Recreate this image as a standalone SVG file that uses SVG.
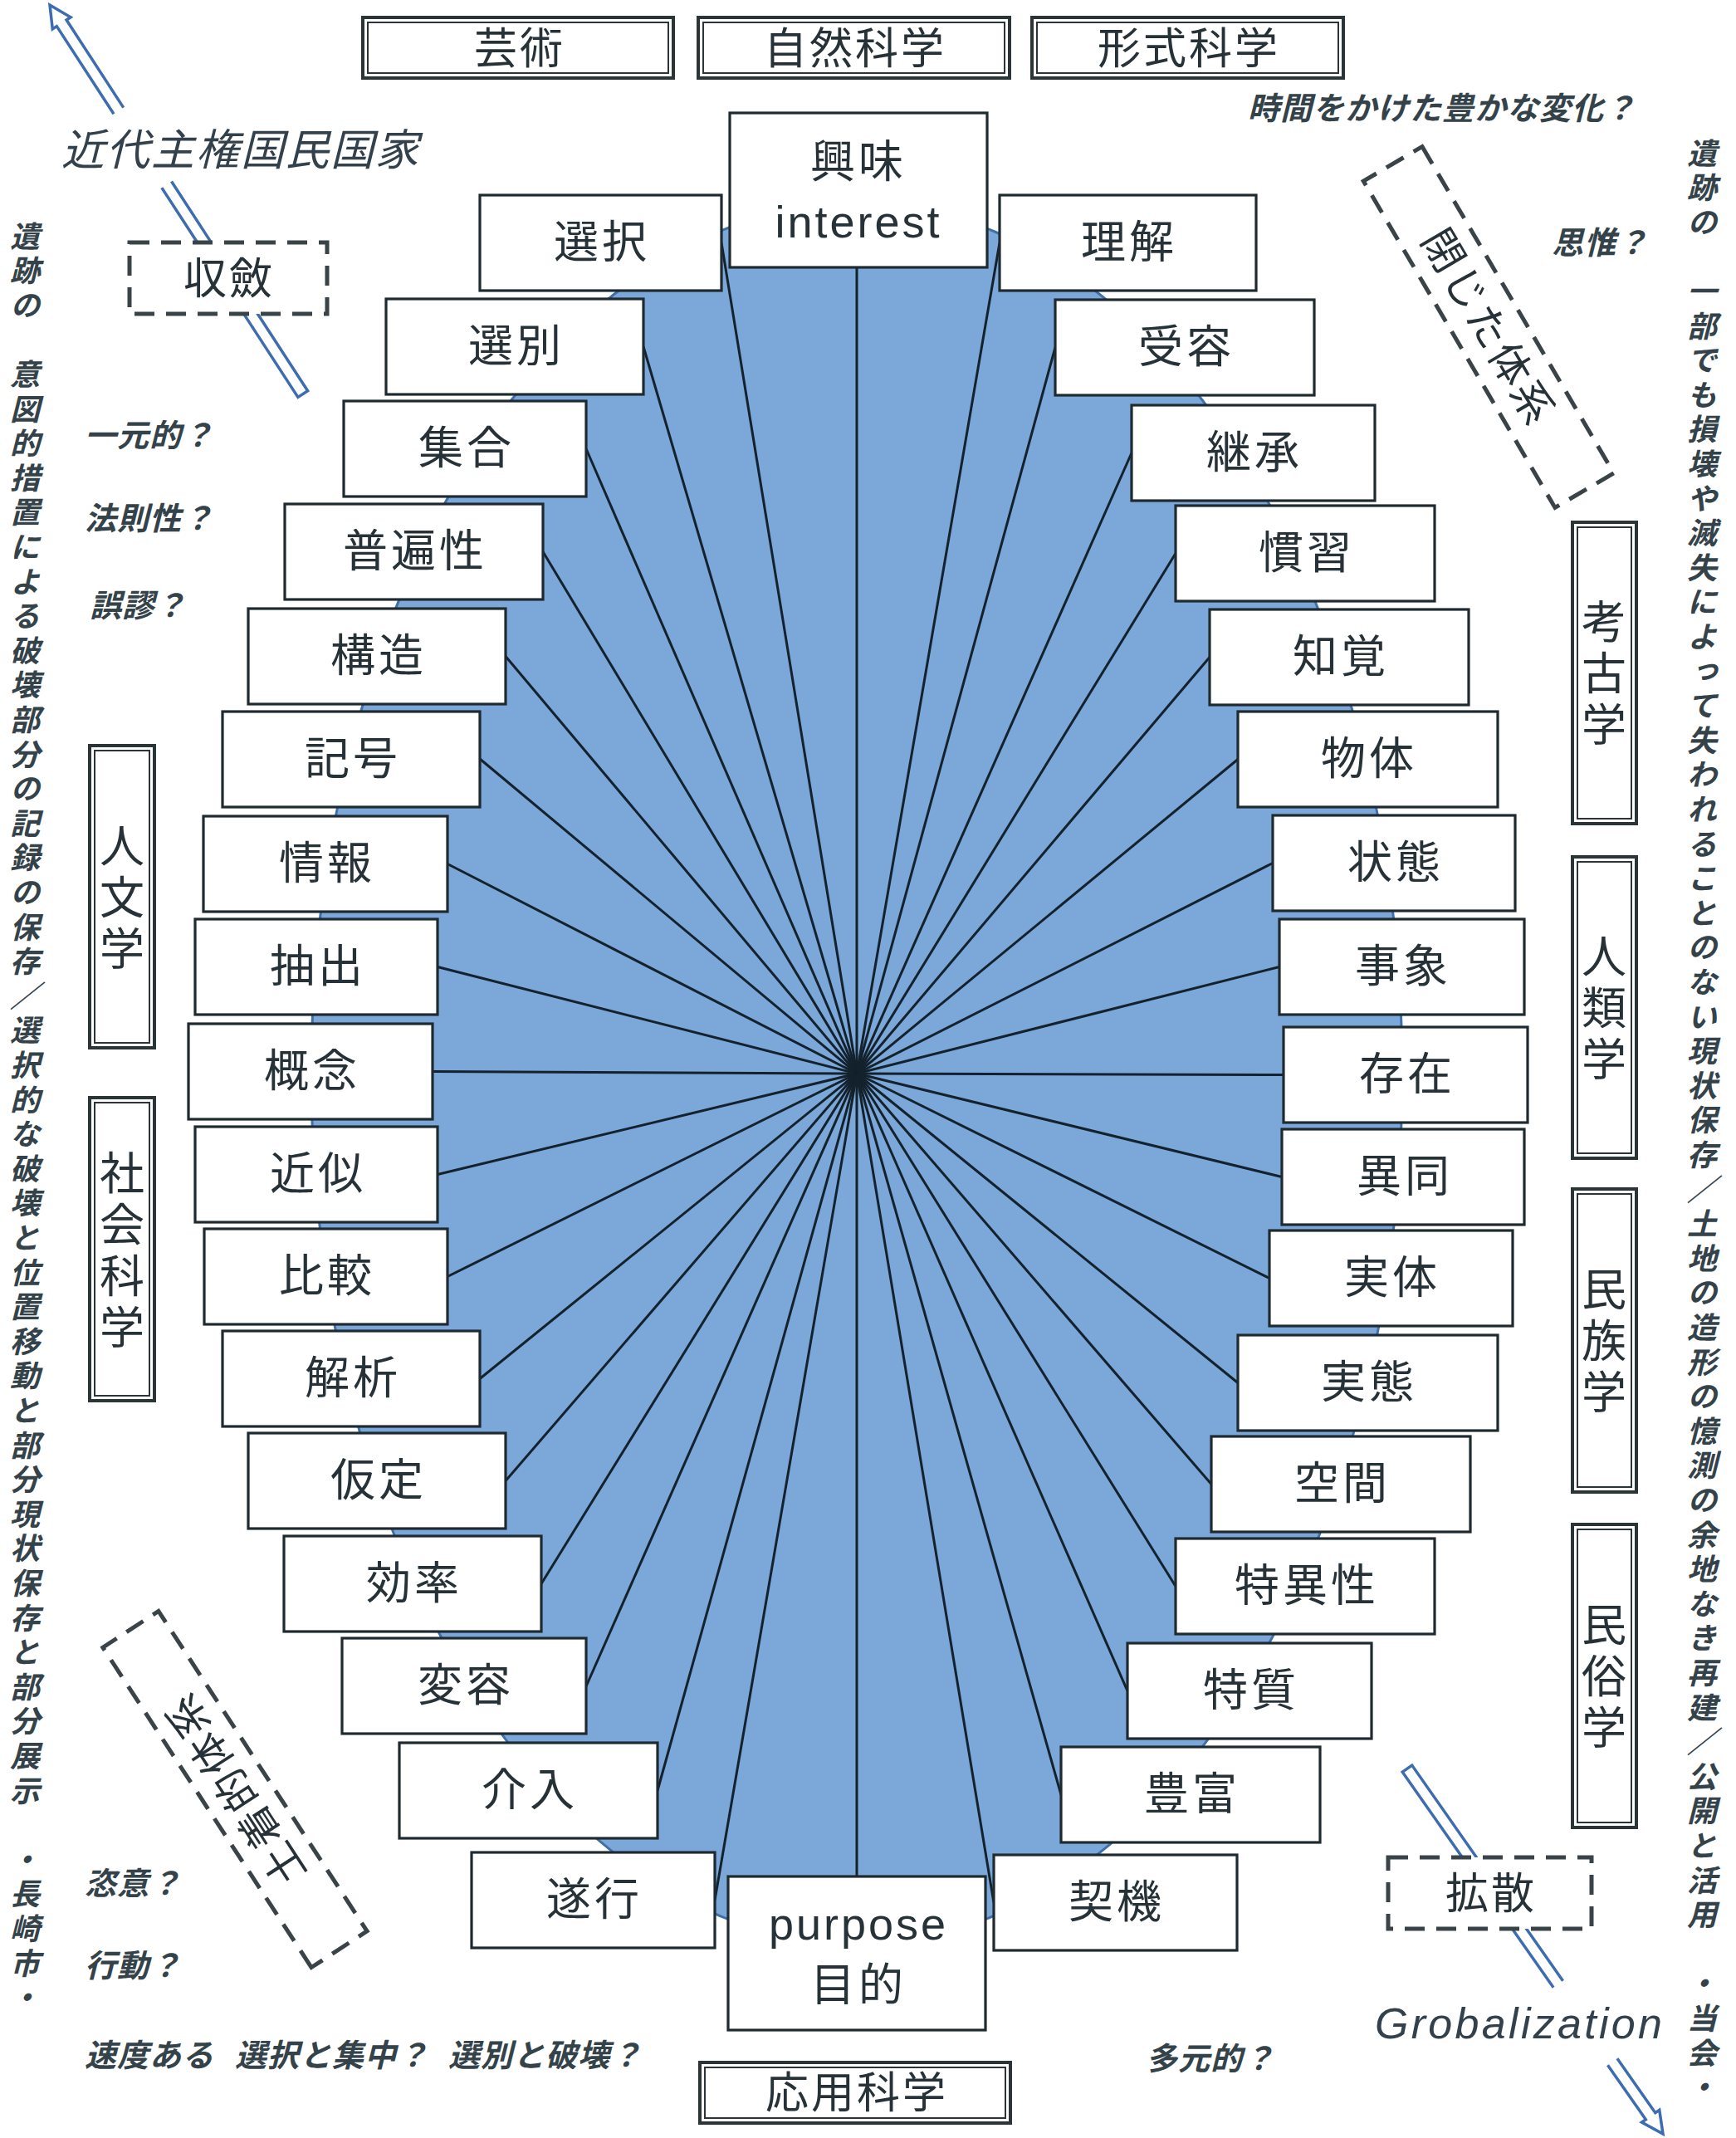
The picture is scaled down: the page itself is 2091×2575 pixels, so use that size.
<svg xmlns="http://www.w3.org/2000/svg" width="2091" height="2575" viewBox="0 0 2091 2575">
<style>
.bg{fill:#ffffff}
.ell{fill:#7ba7d9;stroke:#3f6fa9;stroke-width:3}
.ray{stroke:#13222c;stroke-width:3}
.box{fill:#ffffff;stroke:#1e2a30;stroke-width:3.2}
.lbl{font-family:"Noto Sans CJK JP","Noto Sans CJK SC",sans-serif;font-size:54px;fill:#263238;text-anchor:middle;letter-spacing:4px}
.en{font-family:"Liberation Sans",Arial,sans-serif;font-size:54px;fill:#263238;text-anchor:middle;letter-spacing:3px}
.co{fill:#ffffff;stroke:#2b3538;stroke-width:4}
.ci{fill:none;stroke:#2b3538;stroke-width:2}
.cat{font-family:"Noto Sans CJK JP",sans-serif;font-size:52px;fill:#263238;text-anchor:middle;letter-spacing:3px}
.vcat{font-family:"Noto Sans CJK JP",sans-serif;font-size:54px;fill:#263238;text-anchor:middle;letter-spacing:8px;writing-mode:vertical-rl}
.note{font-family:"Noto Sans CJK JP",sans-serif;font-style:italic;font-weight:700;font-size:38px;fill:#34424a;letter-spacing:1px}
.big{font-family:"Noto Sans CJK JP",sans-serif;font-style:italic;font-size:52px;fill:#33414c;letter-spacing:2px}
.glob{font-family:"Liberation Sans",Arial,sans-serif;font-style:italic;font-size:52px;fill:#33414c;letter-spacing:3.3px}
.vnote{font-family:"Noto Sans CJK JP",sans-serif;font-style:italic;font-weight:700;font-size:36px;fill:#34424a;writing-mode:vertical-rl}
.dash{fill:#ffffff;stroke:#3a4448;stroke-width:5;stroke-dasharray:24 14}
.dl{font-family:"Noto Sans CJK JP",sans-serif;font-size:52px;fill:#263238;text-anchor:middle;letter-spacing:3px}
.arr{fill:none;stroke:#3d6db0;stroke-width:3.5;stroke-linejoin:miter}
</style>
<rect class="bg" x="0" y="0" width="2091" height="2575"/>

<!-- arrows -->
<g id="arrow-converge" class="arr" transform="translate(60,6) rotate(56.96)">
<path d="M152,-7 L26,-7 L26,-13 L0,0 L26,13 L26,7 L152,7"/>
<path d="M258,-7 L345,-7 M258,7 L345,7"/>
<path d="M440,-7 L559,-7 L559,7 L440,7"/>
</g>
<g id="arrow-diffuse" class="arr" transform="translate(2003,2570) rotate(235)">
<path d="M106,-7 L26,-7 L26,-13 L0,0 L26,13 L26,7 L106,7"/>
<path d="M220,-7 L305,-7 M220,7 L305,7"/>
<path d="M400,-7 L537,-7 L537,7 L400,7"/>
</g>

<!-- ellipse -->
<ellipse id="hub" class="ell" cx="1032" cy="1293" rx="657" ry="1048"/>

<!-- connectors -->
<g id="connectors" class="ray">
<line x1="1032" y1="1293" x2="1032" y2="322"/>
<line x1="1032" y1="1293" x2="1032" y2="2260"/>
<line x1="1032" y1="1293" x2="869" y2="292.5"/>
<line x1="1032" y1="1293" x2="775" y2="417.5"/>
<line x1="1032" y1="1293" x2="706" y2="540.5"/>
<line x1="1032" y1="1293" x2="654" y2="664.5"/>
<line x1="1032" y1="1293" x2="609" y2="790.5"/>
<line x1="1032" y1="1293" x2="578" y2="914"/>
<line x1="1032" y1="1293" x2="539" y2="1040.5"/>
<line x1="1032" y1="1293" x2="527" y2="1164.5"/>
<line x1="1032" y1="1293" x2="521" y2="1290.5"/>
<line x1="1032" y1="1293" x2="527" y2="1414.5"/>
<line x1="1032" y1="1293" x2="539" y2="1537.5"/>
<line x1="1032" y1="1293" x2="578" y2="1660.5"/>
<line x1="1032" y1="1293" x2="609" y2="1783.5"/>
<line x1="1032" y1="1293" x2="652" y2="1907.5"/>
<line x1="1032" y1="1293" x2="706" y2="2031"/>
<line x1="1032" y1="1293" x2="792" y2="2156.5"/>
<line x1="1032" y1="1293" x2="861" y2="2288.5"/>
<line x1="1032" y1="1293" x2="1204" y2="292.5"/>
<line x1="1032" y1="1293" x2="1271" y2="418.5"/>
<line x1="1032" y1="1293" x2="1363" y2="545.5"/>
<line x1="1032" y1="1293" x2="1416" y2="666.5"/>
<line x1="1032" y1="1293" x2="1457" y2="791.5"/>
<line x1="1032" y1="1293" x2="1491" y2="914.5"/>
<line x1="1032" y1="1293" x2="1533" y2="1039.5"/>
<line x1="1032" y1="1293" x2="1541" y2="1164.5"/>
<line x1="1032" y1="1293" x2="1546" y2="1294.5"/>
<line x1="1032" y1="1293" x2="1544" y2="1417.5"/>
<line x1="1032" y1="1293" x2="1529" y2="1539.5"/>
<line x1="1032" y1="1293" x2="1491" y2="1665.5"/>
<line x1="1032" y1="1293" x2="1459" y2="1787.5"/>
<line x1="1032" y1="1293" x2="1416" y2="1910.5"/>
<line x1="1032" y1="1293" x2="1358" y2="2036.5"/>
<line x1="1032" y1="1293" x2="1278" y2="2161.5"/>
<line x1="1032" y1="1293" x2="1197" y2="2291.5"/>
</g>

<!-- central top / bottom nodes -->
<g id="n-interest"><rect class="box" x="879" y="136" width="310" height="186"/>
<text class="lbl" x="1034" y="214">興味</text><text class="en" x="1034" y="286">interest</text></g>
<g id="n-purpose"><rect class="box" x="877" y="2260" width="310" height="185"/>
<text class="en" x="1034" y="2336">purpose</text><text class="lbl" x="1034" y="2410">目的</text></g>

<!-- left nodes -->
<g id="n-sentaku"><rect class="box" x="578" y="235" width="291" height="115"/><text class="lbl" x="725" y="311">選択</text></g>
<g id="n-senbetsu"><rect class="box" x="465" y="360" width="310" height="115"/><text class="lbl" x="622" y="436">選別</text></g>
<g id="n-shugo"><rect class="box" x="414" y="483" width="292" height="115"/><text class="lbl" x="562" y="559">集合</text></g>
<g id="n-fuhensei"><rect class="box" x="343" y="607" width="311" height="115"/><text class="lbl" x="500" y="683">普遍性</text></g>
<g id="n-kozo"><rect class="box" x="299" y="733" width="310" height="115"/><text class="lbl" x="456" y="809">構造</text></g>
<g id="n-kigo"><rect class="box" x="268" y="857" width="310" height="115"/><text class="lbl" x="425" y="933">記号</text></g>
<g id="n-joho"><rect class="box" x="245" y="983" width="294" height="115"/><text class="lbl" x="394" y="1059">情報</text></g>
<g id="n-chushutsu"><rect class="box" x="235" y="1107" width="292" height="115"/><text class="lbl" x="383" y="1183">抽出</text></g>
<g id="n-gainen"><rect class="box" x="227" y="1233" width="294" height="115"/><text class="lbl" x="376" y="1309">概念</text></g>
<g id="n-kinji"><rect class="box" x="235" y="1357" width="292" height="115"/><text class="lbl" x="383" y="1433">近似</text></g>
<g id="n-hikaku"><rect class="box" x="246" y="1480" width="293" height="115"/><text class="lbl" x="394" y="1556">比較</text></g>
<g id="n-kaiseki"><rect class="box" x="268" y="1603" width="310" height="115"/><text class="lbl" x="425" y="1679">解析</text></g>
<g id="n-katei"><rect class="box" x="299" y="1726" width="310" height="115"/><text class="lbl" x="456" y="1802">仮定</text></g>
<g id="n-koritsu"><rect class="box" x="342" y="1850" width="310" height="115"/><text class="lbl" x="499" y="1926">効率</text></g>
<g id="n-henyo"><rect class="box" x="412" y="1973" width="294" height="115"/><text class="lbl" x="561" y="2049">変容</text></g>
<g id="n-kainyu"><rect class="box" x="481" y="2099" width="311" height="115"/><text class="lbl" x="638" y="2175">介入</text></g>
<g id="n-suiko"><rect class="box" x="568" y="2231" width="293" height="115"/><text class="lbl" x="716" y="2307">遂行</text></g>

<!-- right nodes -->
<g id="n-rikai"><rect class="box" x="1204" y="235" width="309" height="115"/><text class="lbl" x="1360" y="311">理解</text></g>
<g id="n-juyo"><rect class="box" x="1271" y="361" width="312" height="115"/><text class="lbl" x="1429" y="437">受容</text></g>
<g id="n-keisho"><rect class="box" x="1363" y="488" width="293" height="115"/><text class="lbl" x="1511" y="564">継承</text></g>
<g id="n-kanshu"><rect class="box" x="1416" y="609" width="312" height="115"/><text class="lbl" x="1574" y="685">慣習</text></g>
<g id="n-chikaku"><rect class="box" x="1457" y="734" width="312" height="115"/><text class="lbl" x="1615" y="810">知覚</text></g>
<g id="n-buttai"><rect class="box" x="1491" y="857" width="313" height="115"/><text class="lbl" x="1649" y="933">物体</text></g>
<g id="n-jotai"><rect class="box" x="1533" y="982" width="292" height="115"/><text class="lbl" x="1681" y="1058">状態</text></g>
<g id="n-jisho"><rect class="box" x="1541" y="1107" width="295" height="115"/><text class="lbl" x="1690" y="1183">事象</text></g>
<g id="n-sonzai"><rect class="box" x="1546" y="1237" width="294" height="115"/><text class="lbl" x="1695" y="1313">存在</text></g>
<g id="n-ido"><rect class="box" x="1544" y="1360" width="292" height="115"/><text class="lbl" x="1692" y="1436">異同</text></g>
<g id="n-jittai1"><rect class="box" x="1529" y="1482" width="293" height="115"/><text class="lbl" x="1677" y="1558">実体</text></g>
<g id="n-jittai2"><rect class="box" x="1491" y="1608" width="313" height="115"/><text class="lbl" x="1649" y="1684">実態</text></g>
<g id="n-kukan"><rect class="box" x="1459" y="1730" width="312" height="115"/><text class="lbl" x="1617" y="1806">空間</text></g>
<g id="n-tokuisei"><rect class="box" x="1416" y="1853" width="312" height="115"/><text class="lbl" x="1574" y="1929">特異性</text></g>
<g id="n-tokushitsu"><rect class="box" x="1358" y="1979" width="294" height="115"/><text class="lbl" x="1507" y="2055">特質</text></g>
<g id="n-hofu"><rect class="box" x="1278" y="2104" width="312" height="115"/><text class="lbl" x="1436" y="2180">豊富</text></g>
<g id="n-keiki"><rect class="box" x="1197" y="2234" width="293" height="115"/><text class="lbl" x="1345" y="2310">契機</text></g>

<!-- category boxes -->
<g id="c-geijutsu"><rect class="co" x="437" y="21" width="374" height="73"/><rect class="ci" x="443" y="27" width="362" height="61"/><text class="cat" x="626" y="77">芸術</text></g>
<g id="c-shizen"><rect class="co" x="841" y="21" width="375" height="73"/><rect class="ci" x="847" y="27" width="363" height="61"/><text class="cat" x="1030" y="77">自然科学</text></g>
<g id="c-keishiki"><rect class="co" x="1243" y="21" width="375" height="73"/><rect class="ci" x="1249" y="27" width="363" height="61"/><text class="cat" x="1432" y="77">形式科学</text></g>
<g id="c-oyo"><rect class="co" x="843" y="2484" width="374" height="73"/><rect class="ci" x="849" y="2490" width="362" height="61"/><text class="cat" x="1032" y="2539">応用科学</text></g>
<g id="c-jinbun"><rect class="co" x="108" y="898" width="78" height="364"/><rect class="ci" x="114" y="904" width="66" height="352"/><text class="vcat" x="147" y="1084">人文学</text></g>
<g id="c-shakai"><rect class="co" x="108" y="1322" width="78" height="365"/><rect class="ci" x="114" y="1328" width="66" height="353"/><text class="vcat" x="147" y="1509">社会科学</text></g>
<g id="c-koko"><rect class="co" x="1894" y="629" width="77" height="363"/><rect class="ci" x="1900" y="635" width="65" height="351"/><text class="vcat" x="1932" y="814">考古学</text></g>
<g id="c-jinrui"><rect class="co" x="1894" y="1032" width="77" height="363"/><rect class="ci" x="1900" y="1038" width="65" height="351"/><text class="vcat" x="1932" y="1217">人類学</text></g>
<g id="c-minzoku1"><rect class="co" x="1894" y="1432" width="77" height="365"/><rect class="ci" x="1900" y="1438" width="65" height="353"/><text class="vcat" x="1932" y="1618">民族学</text></g>
<g id="c-minzoku2"><rect class="co" x="1894" y="1836" width="77" height="365"/><rect class="ci" x="1900" y="1842" width="65" height="353"/><text class="vcat" x="1932" y="2022">民俗学</text></g>

<!-- dashed boxes -->
<g id="d-shuren"><rect class="dash" x="156" y="292" width="238" height="86"/><text class="dl" x="276" y="354">収斂</text></g>
<g id="d-kakusan"><rect class="dash" x="1672" y="2237" width="245" height="86"/><text class="dl" x="1796" y="2299">拡散</text></g>
<g id="d-closed" transform="translate(1793,394) rotate(59.6)"><rect class="dash" x="-228" y="-41" width="456" height="82"/><text class="dl" x="0" y="18" style="font-size:50px">閉じた体系</text></g>
<g id="d-dochaku" transform="translate(283,2155) rotate(236.9)"><rect class="dash" x="-230" y="-40" width="460" height="80"/><text class="dl" x="0" y="18" style="font-size:50px">土着的体系</text></g>

<!-- free texts -->
<text class="big" x="74" y="199">近代主権国民国家</text>
<text class="glob" x="1656" y="2455">Grobalization</text>
<text class="note" x="1503" y="144">時間をかけた豊かな変化？</text>
<text class="note" x="1869" y="306">思惟？</text>
<text class="note" x="102" y="538">一元的？</text>
<text class="note" x="102" y="638">法則性？</text>
<text class="note" x="108" y="743">誤謬？</text>
<text class="note" x="102" y="2282">恣意？</text>
<text class="note" x="102" y="2381">行動？</text>
<text class="note" y="2489"><tspan x="102">速度ある</tspan><tspan x="283">選択と集中？</tspan><tspan x="540">選別と破壊？</tspan></text>
<text class="note" x="1380" y="2493">多元的？</text>
<text class="vnote" x="30" y="266 307.6 349.2 390.8 432.4 474 515.6 557.2 598.8 640.4 682 723.6 765.2 806.8 848.4 890 931.6 973.2 1014.8 1056.4 1098 1139.6 1181.2 1222.8 1264.4 1306 1347.6 1389.2 1430.8 1472.4 1514 1555.6 1597.2 1638.8 1680.4 1722 1763.6 1805.2 1846.8 1888.4 1930 1971.6 2013.2 2054.8 2096.4 2138 2179.6 2221.2 2262.8 2304.4 2346 2387.6">遺跡の　意図的措置による破壊部分の記録の保存／選択的な破壊と位置移動と部分現状保存と部分展示　・長崎市・</text>
<text class="vnote" x="2050" y="166 207.6 249.2 290.8 332.4 374 415.6 457.2 498.8 540.4 582 623.6 665.2 706.8 748.4 790 831.6 873.2 914.8 956.4 998 1039.6 1081.2 1122.8 1164.4 1206 1247.6 1289.2 1330.8 1372.4 1414 1455.6 1497.2 1538.8 1580.4 1622 1663.6 1705.2 1746.8 1788.4 1830 1871.6 1913.2 1954.8 1996.4 2038 2079.6 2121.2 2162.8 2204.4 2246 2287.6 2329.2 2370.8 2412.4 2454 2495.6">遺跡の　一部でも損壊や滅失によって失われることのない現状保存／土地の造形の憶測の余地なき再建／公開と活用　・当会・</text>
</svg>
